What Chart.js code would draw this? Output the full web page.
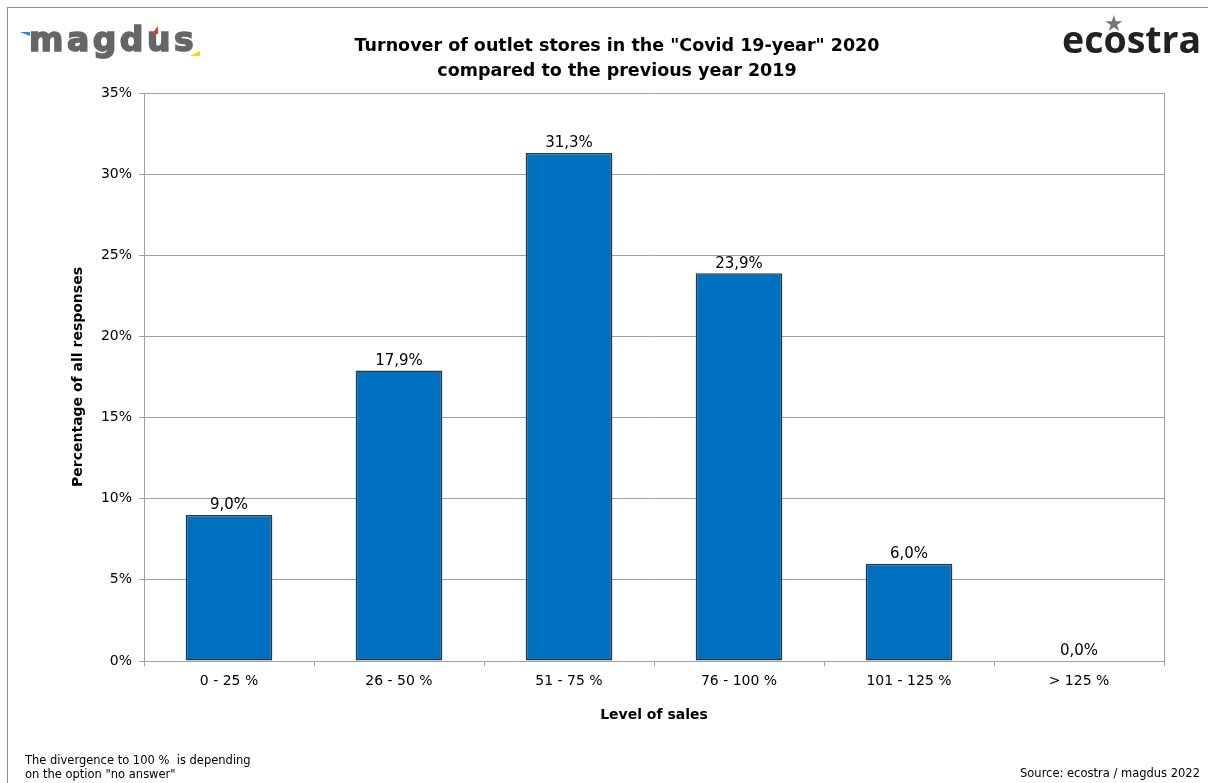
<!DOCTYPE html>
<html>
<head>
<meta charset="utf-8">
<script src="https://cdn.jsdelivr.net/npm/chart.js@4.4.1/dist/chart.umd.min.js"></script>
<style>
  body { margin: 0; background: #fff; font-family: "DejaVu Sans", sans-serif; }
  #wrap { position: relative; width: 1208px; height: 783px; overflow: hidden; }
  #frame { position: absolute; left: 7px; top: 7px; width: 1300px; height: 900px; border: 1px solid #8c8c8c; }
  #chart { position: absolute; left: 0; top: 0; }
  .title { position: absolute; left: 267px; width: 700px; text-align: center; font-weight: bold; font-size: 17.5px; color: #000; }
  .magdus { position: absolute; left: 29px; top: 20px; font-family: "DejaVu Sans"; font-weight: bold; font-size: 33px; color: #666; letter-spacing: 3.5px; -webkit-text-stroke: 1.6px #666; }
  .ecostra { position: absolute; left: 1062px; top: 13px; font-family: "Open Sans"; font-weight: 700; font-size: 37.5px; color: #222; }
  .note { position: absolute; font-size: 11.5px; color: #000; line-height: 14px; }
</style>
</head>
<body>
<div id="wrap">
  <div id="frame"></div>
  <canvas id="chart" width="1208" height="783"></canvas>
  <div class="title" style="top:35px">Turnover of outlet stores in the "Covid 19-year" 2020</div>
  <div class="title" style="top:60px">compared to the previous year 2019</div>
  <div class="magdus">magdus</div>
  <div style="position:absolute;left:20px;top:32px;width:0;height:0;border-top:4px solid #1e88e5;border-left:10px solid transparent;"></div>
  <div style="position:absolute;left:152px;top:26px;width:0;height:0;border-bottom:8px solid #e53935;border-left:6px solid transparent;"></div>
  <div style="position:absolute;left:190px;top:51px;width:0;height:0;border-bottom:5px solid #ffd600;border-left:10px solid transparent;"></div>
  <div class="ecostra">ecostra</div>
  <div style="position:absolute;left:1104px;top:11px;font-size:22px;color:#777;">&#9733;</div>
  <div class="note" style="left:25px;top:753px;">The divergence to 100 %&nbsp; is depending<br>on the option "no answer"</div>
  <div class="note" style="right:8px;top:766px;">Source: ecostra / magdus 2022</div>
</div>
<script>
const categories = ["0 - 25 %", "26 - 50 %", "51 - 75 %", "76 - 100 %", "101 - 125 %", "> 125 %"];
const shares = [9.0, 17.9, 31.3, 23.9, 6.0, 0.0];
const yTicks = [0, 5, 10, 15, 20, 25, 30, 35];

const fmt = v => v.toFixed(1).replace(".", ",") + "%";

const frameAndLabels = {
  id: "frameAndLabels",
  afterDatasetsDraw(chart) {
    const ctx = chart.ctx;
    const a = chart.chartArea;
    ctx.save();
    ctx.strokeStyle = "#a0a0a0";
    ctx.lineWidth = 1;
    ctx.beginPath();
    ctx.moveTo(Math.round(a.right) + 0.5, a.top);
    ctx.lineTo(Math.round(a.right) + 0.5, a.bottom);
    ctx.stroke();
    ctx.fillStyle = "#000";
    ctx.font = "15px 'DejaVu Sans'";
    ctx.textAlign = "center";
    ctx.textBaseline = "bottom";
    chart.getDatasetMeta(0).data.forEach((bar, i) => {
      ctx.fillText(fmt(shares[i]), bar.x, bar.y - 2);
    });
    ctx.restore();
  }
};

new Chart(document.getElementById("chart"), {
  type: "bar",
  data: {
    labels: categories,
    datasets: [{
      data: shares,
      backgroundColor: "#0070c0",
      borderColor: "#333333",
      borderWidth: 1.5,
      borderSkipped: false,
      barPercentage: 0.51,
      categoryPercentage: 1
    }]
  },
  options: {
    responsive: false,
    animation: false,
    layout: { padding: { left: 66, right: 44, top: 93, bottom: 55 } },
    plugins: { legend: { display: false }, tooltip: { enabled: false } },
    scales: {
      x: {
        grid: { offset: true, drawOnChartArea: false, color: "#a0a0a0", tickLength: 5 },
        border: { color: "#a0a0a0" },
        ticks: { color: "#000", font: { family: "DejaVu Sans", size: 14 }, padding: 7 },
        title: { display: true, text: "Level of sales", color: "#000", font: { family: "DejaVu Sans", size: 14, weight: "bold" }, padding: { top: 16 } },
        afterFit: s => { s.height = 67; }
      },
      y: {
        min: 0,
        max: 35,
        afterBuildTicks: s => { s.ticks = yTicks.map(v => ({ value: v })); },
        grid: { color: "#a0a0a0", tickLength: 5 },
        border: { color: "#a0a0a0" },
        ticks: { color: "#000", font: { family: "DejaVu Sans", size: 14 }, padding: 7, callback: v => v + "%" },
        title: { display: true, text: "Percentage of all responses", color: "#000", font: { family: "DejaVu Sans", size: 14, weight: "bold" }, padding: { bottom: 8 } },
        afterFit: s => { s.width = 78; }
      }
    }
  },
  plugins: [frameAndLabels]
});
</script>
</body>
</html>
